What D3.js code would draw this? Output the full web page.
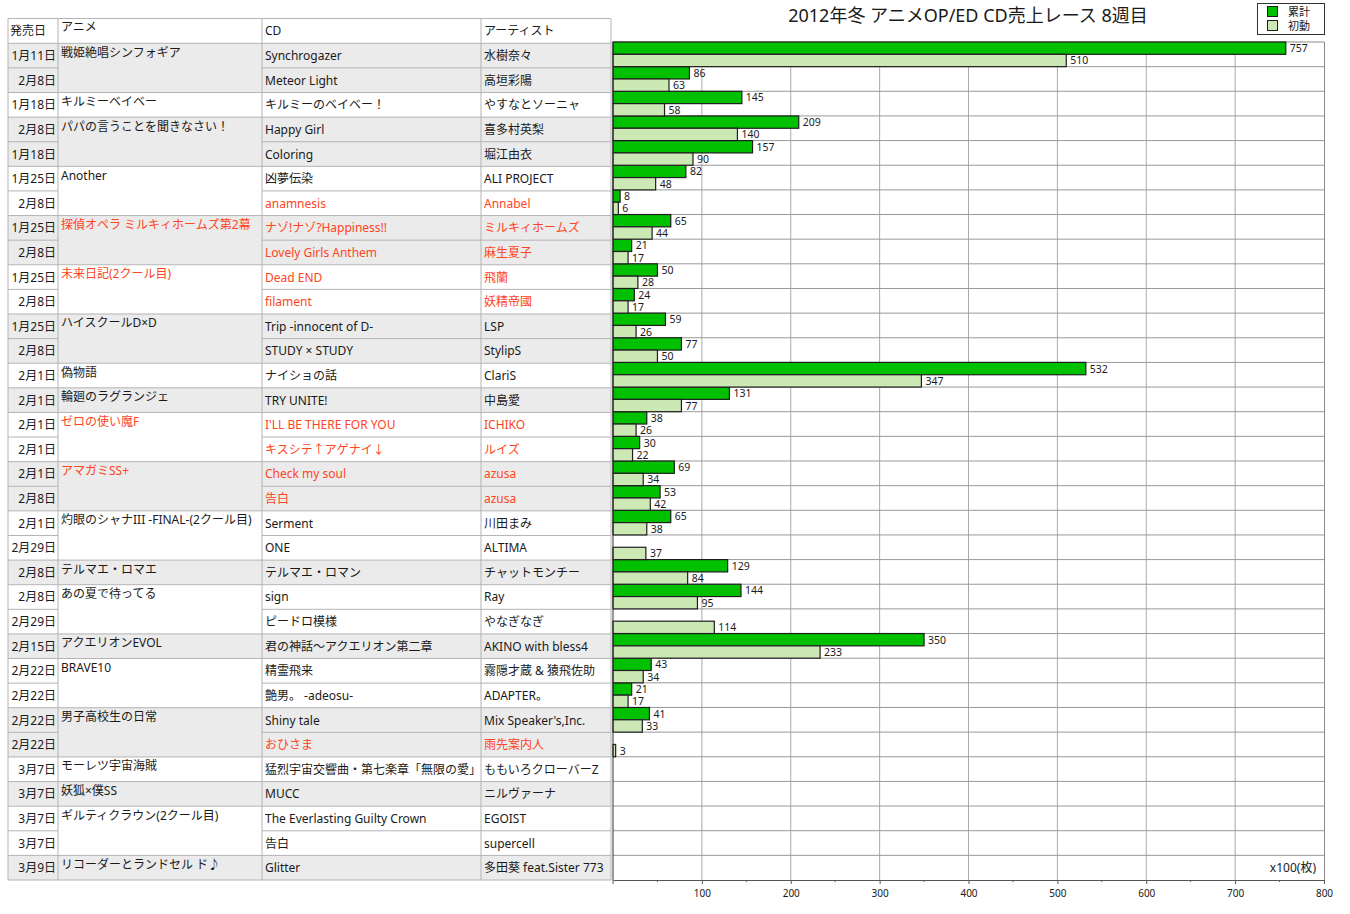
<!DOCTYPE html>
<html><head><meta charset="utf-8">
<script src="https://cdnjs.cloudflare.com/ajax/libs/d3/7.8.5/d3.min.js"></script>
<style>
body{margin:0;background:#fff;}
svg text{font-family:"Noto Sans","Noto Sans CJK JP",sans-serif;}
</style></head>
<body><svg id="c" width="1350" height="914"></svg>
<script>
const title = "2012年冬 アニメOP/ED CD売上レース 8週目";
const headers = ["発売日","アニメ","CD","アーティスト"];
const dates = ["1月11日","2月8日","1月18日","2月8日","1月18日","1月25日","2月8日","1月25日","2月8日","1月25日","2月8日","1月25日","2月8日","2月1日","2月1日","2月1日","2月1日","2月1日","2月8日","2月1日","2月29日","2月8日","2月8日","2月29日","2月15日","2月22日","2月22日","2月22日","2月22日","3月7日","3月7日","3月7日","3月7日","3月9日"];
const animeGroups = ["戦姫絶唱シンフォギア","キルミーベイベー","パパの言うことを聞きなさい！","Another","探偵オペラ ミルキィホームズ第2幕","未来日記(2クール目)","ハイスクールD×D","偽物語","輪廻のラグランジェ","ゼロの使い魔F","アマガミSS+","灼眼のシャナIII -FINAL-(2クール目)","テルマエ・ロマエ","あの夏で待ってる","アクエリオンEVOL","BRAVE10","男子高校生の日常","モーレツ宇宙海賊","妖狐×僕SS","ギルティクラウン(2クール目)","リコーダーとランドセル ド♪"];
const groupSizes = [2,1,2,2,2,2,2,1,1,2,2,2,1,2,1,2,2,1,1,2,1];
const groupRed = [0,0,0,0,1,1,0,0,0,1,1,0,0,0,0,0,0,0,0,0,0];
const cds = ["Synchrogazer","Meteor Light","キルミーのベイベー！","Happy Girl","Coloring","凶夢伝染","anamnesis","ナゾ!ナゾ?Happiness!!","Lovely Girls Anthem","Dead END","filament","Trip -innocent of D-","STUDY × STUDY","ナイショの話","TRY UNITE!","I'LL BE THERE FOR YOU","キスシテ↑アゲナイ↓","Check my soul","告白","Serment","ONE","テルマエ・ロマン","sign","ピードロ模様","君の神話～アクエリオン第二章","精霊飛来","艶男。 -adeosu-","Shiny tale","おひさま","猛烈宇宙交響曲・第七楽章「無限の愛」","MUCC","The Everlasting Guilty Crown","告白","Glitter"];
const artists = ["水樹奈々","高垣彩陽","やすなとソーニャ","喜多村英梨","堀江由衣","ALI PROJECT","Annabel","ミルキィホームズ","麻生夏子","飛蘭","妖精帝國","LSP","StylipS","ClariS","中島愛","ICHIKO","ルイズ","azusa","azusa","川田まみ","ALTIMA","チャットモンチー","Ray","やなぎなぎ","AKINO with bless4","霧隠才蔵 & 猿飛佐助","ADAPTER。","Mix Speaker's,Inc.","雨先案内人","ももいろクローバーZ","ニルヴァーナ","EGOIST","supercell","多田葵 feat.Sister 773"];
const rowRed = [0,0,0,0,0,0,1,1,1,1,1,0,0,0,0,1,1,1,1,0,0,0,0,0,0,0,0,0,1,0,0,0,0,0];
const cumulative = [757,86,145,209,157,82,8,65,21,50,24,59,77,532,131,38,30,69,53,65,null,129,144,null,350,43,21,41,null,null,null,null,null,null];
const initial = [510,63,58,140,90,48,6,44,17,28,17,26,50,347,77,26,22,34,42,38,37,84,95,114,233,34,17,33,3,null,null,null,null,null];
const seriesNames = ["累計","初動"];
const xTicks = [100,200,300,400,500,600,700,800];
const unitLabel = "x100(枚)";

const RED = "#ff4422", TXT = "#1a1a1a";
const svg = d3.select("#c");
const n = dates.length;
const idx = d3.range(n);

// table
const cols = [8,58,262,481,611];
const tY = d3.scaleBand().domain(idx).range([43.3,880]).padding(0);
const bw = tY.bandwidth();
const tbl = svg.append("g");
let start = 0;
const groups = animeGroups.map((a,i)=>{const g={name:a,start:start,size:groupSizes[i],red:groupRed[i],grey:i%2===0};start+=groupSizes[i];return g;});
groups.forEach(g=>{
  tbl.append("rect").attr("x",cols[0]).attr("y",tY(g.start)).attr("width",cols[4]-cols[0]).attr("height",bw*g.size)
    .attr("fill",g.grey?"#ebebeb":"#ffffff");
});
const lc = "#b4b4b4";
tbl.append("line").attr("x1",cols[0]).attr("x2",cols[4]).attr("y1",18.5).attr("y2",18.5).attr("stroke",lc);
tbl.append("line").attr("x1",cols[0]).attr("x2",cols[4]).attr("y1",43.3).attr("y2",43.3).attr("stroke",lc);
idx.forEach(i=>{
  const yy = tY(i)+bw;
  const gEnd = groups.some(g=>g.start+g.size-1===i);
  tbl.append("line").attr("x1",cols[0]).attr("x2",cols[1]).attr("y1",yy).attr("y2",yy).attr("stroke",lc);
  tbl.append("line").attr("x1",cols[2]).attr("x2",cols[4]).attr("y1",yy).attr("y2",yy).attr("stroke",lc);
  if(gEnd) tbl.append("line").attr("x1",cols[1]).attr("x2",cols[2]).attr("y1",yy).attr("y2",yy).attr("stroke",lc);
});
cols.forEach(xx=>tbl.append("line").attr("x1",xx).attr("x2",xx).attr("y1",18.5).attr("y2",880).attr("stroke",lc));
const hx = [10,61,265,484];
headers.forEach((h,i)=>tbl.append("text").attr("x",hx[i]).attr("y",i===1?31:35).attr("font-size",12).attr("fill",TXT).text(h));
idx.forEach(i=>{
  const cy = tY(i)+bw/2+4.5;
  tbl.append("text").attr("x",56).attr("y",cy).attr("text-anchor","end").attr("font-size",12).attr("fill",TXT).text(dates[i]);
  tbl.append("text").attr("x",265).attr("y",cy).attr("font-size",12).attr("fill",rowRed[i]?RED:TXT).text(cds[i]);
  tbl.append("text").attr("x",484).attr("y",cy).attr("font-size",12).attr("fill",rowRed[i]?RED:TXT).text(artists[i]);
});
groups.forEach(g=>{
  tbl.append("text").attr("x",61).attr("y",tY(g.start)+13.5).attr("font-size",12).attr("fill",g.red?RED:TXT).text(g.name);
});

// chart
const x = d3.scaleLinear().domain([0,800]).range([613,1324]);
const y = d3.scaleBand().domain(idx).range([42,880]).padding(0);
const cb = y.bandwidth();
const ch = svg.append("g");
xTicks.filter(t=>t<800).forEach(t=>ch.append("line").attr("x1",x(t)).attr("x2",x(t)).attr("y1",42).attr("y2",880).attr("stroke","#aaa"));
idx.forEach(i=>{ if(i<n-1) ch.append("line").attr("x1",613).attr("x2",1324).attr("y1",y(i)+cb).attr("y2",y(i)+cb).attr("stroke","#999"); });
ch.append("line").attr("x1",613).attr("x2",1324.5).attr("y1",42).attr("y2",42).attr("stroke","#888");
ch.append("line").attr("x1",1324.5).attr("x2",1324.5).attr("y1",42).attr("y2",880).attr("stroke","#888");

const colors = ["#00c000","#cce8b5"];
[cumulative,initial].forEach((arr,s)=>{
  idx.forEach(i=>{
    const v = arr[i];
    if(v==null) return;
    const by = y(i)+s*cb/2;
    ch.append("rect").attr("x",x(0)).attr("y",by).attr("width",x(v)-x(0)).attr("height",cb/2)
      .attr("fill",colors[s]).attr("stroke","#1e1e1e").attr("stroke-width",1.2);
    ch.append("text").attr("x",x(v)+4).attr("y",by+cb/4+4).attr("font-size",10.5).attr("fill",TXT).text(v);
  });
});
ch.append("line").attr("x1",613).attr("x2",613).attr("y1",42).attr("y2",880).attr("stroke","#333");

const ax = svg.append("g").attr("transform","translate(0,880)")
  .call(d3.axisBottom(x).tickValues(xTicks).tickSize(4).tickPadding(6).tickSizeOuter(0));
ax.select(".domain").attr("stroke","#555");
ax.selectAll(".tick line").attr("stroke","#555");
ax.selectAll(".tick text").attr("font-size",10).attr("fill",TXT).attr("font-family","Noto Sans, sans-serif");
d3.range(0,800,50).filter(v=>v%100!==0).forEach(v=>svg.append("line").attr("x1",x(v)).attr("x2",x(v)).attr("y1",880).attr("y2",882).attr("stroke","#555"));
svg.append("line").attr("x1",x(0)).attr("x2",x(0)).attr("y1",880).attr("y2",884).attr("stroke","#555");

svg.append("text").attr("x",1316).attr("y",872).attr("text-anchor","end").attr("font-size",12).attr("fill",TXT).text(unitLabel);

svg.append("text").attr("x",968).attr("y",22).attr("text-anchor","middle").attr("font-size",18).attr("fill",TXT).text(title);

const lg = svg.append("g");
lg.append("rect").attr("x",1257.5).attr("y",3.5).attr("width",67).attr("height",31).attr("fill","#fff").attr("stroke","#333");
seriesNames.forEach((s,i)=>{
  lg.append("rect").attr("x",1267.5).attr("y",6.5+i*14).attr("width",10).attr("height",10).attr("fill",colors[i]).attr("stroke","#1e1e1e");
  lg.append("text").attr("x",1288).attr("y",15.5+i*14).attr("font-size",11).attr("fill",TXT).text(s);
});
</script></body></html>
